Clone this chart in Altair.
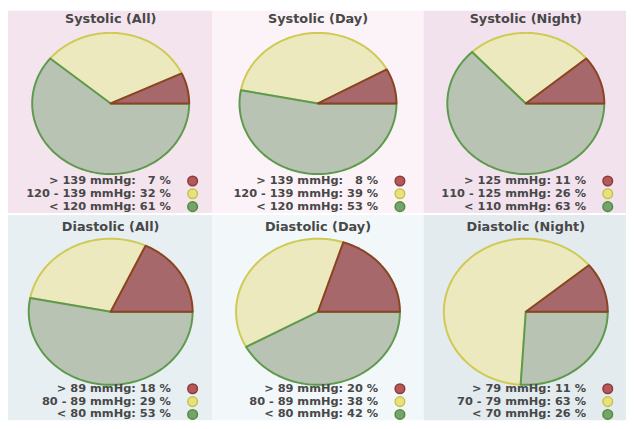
import altair as alt
import pandas as pd

# ---------------- data ----------------
titles = ["Systolic (All)", "Systolic (Day)", "Systolic (Night)",
          "Diastolic (All)", "Diastolic (Day)", "Diastolic (Night)"]
ranges_systolic = ["> 139", "120 - 139", "< 120"]
ranges_systolic_night = ["> 125", "110 - 125", "< 110"]
ranges_diastolic = ["> 89", "80 - 89", "< 80"]
ranges_diastolic_night = ["> 79", "70 - 79", "< 70"]
unit = "mmHg"
pct_systolic_all = [7, 32, 61]
pct_systolic_day = [8, 39, 53]
pct_systolic_night = [11, 26, 63]
pct_diastolic_all = [18, 29, 53]
pct_diastolic_day = [20, 38, 42]
pct_diastolic_night = [11, 63, 26]
level_keys = ["high", "mid", "low"]

# ---------------- styles ----------------
FONT = "DejaVu Sans"
TEXT = "#484848"
FIG = "\u2007"
fill_colors = ["#a7686b", "#ebe9bd", "#b9c3b3"]
edge_colors = ["#8a4422", "#cfca55", "#5e9a4c"]
dot_fill = ["#b3585b", "#e6e27e", "#76a466"]
dot_edge = ["#8e3a3a", "#c9c24a", "#4f8a40"]
bg_top = ["#f4e4ee", "#fbf3f7", "#f1e2ee"]
bg_bottom = ["#e7eff3", "#f2f7fa", "#e3ebef"]
col_widths = [207, 214, 205]
col_cx = [104, 107, 103.5]
row_heights = [205, 208]
draw_order = ["mid", "low", "high"]


def panel(title, ranges, pcts, width, height, cx, cy, rx, ry, rows, title_y, bg):
    df = pd.DataFrame({
        "idx": [0, 1, 2],
        "key": level_keys,
        "pct": pcts,
        "label": [f"{r} {unit}: {str(p).rjust(2, FIG)} %" for r, p in zip(ranges, pcts)],
    })
    base = alt.Chart(df)
    xs = alt.X("ux:Q", axis=None,
               scale=alt.Scale(domain=[-1, 1], range=[cx - rx, cx + rx], nice=False, zero=False))
    ys = alt.Y("uy:Q", axis=None,
               scale=alt.Scale(domain=[-1, 1], range=[cy + ry, cy - ry], nice=False, zero=False))
    slices = []
    for key in draw_order:
        i = level_keys.index(key)
        s = (
            base.transform_window(cum="sum(pct)", sort=[alt.SortField("idx")])
            .transform_filter(alt.datum.key == key)
            .transform_calculate(
                a0="2 * PI * (datum.cum - datum.pct) / 100",
                a1="2 * PI * datum.cum / 100",
                k="sequence(0, 92)",
            )
            .transform_flatten(["k"])
            .transform_calculate(a="datum.a0 + (datum.a1 - datum.a0) * (datum.k - 1) / 90")
            .transform_calculate(
                ux="datum.k == 0 ? 0 : cos(datum.a)",
                uy="datum.k == 0 ? 0 : sin(datum.a)",
            )
            .mark_line(interpolate="linear-closed", strokeWidth=2, strokeJoin="round",
                       fill=fill_colors[i], stroke=edge_colors[i])
            .encode(x=xs, y=ys, order=alt.Order("k:Q"))
        )
        slices.append(s)
    ypos = alt.Y("idx:O", axis=None, scale=alt.Scale(type="point", range=rows, padding=0))
    text = base.mark_text(
        align="right", baseline="middle", font=FONT, fontSize=11.5, fontWeight="bold", color=TEXT
    ).encode(x=alt.value(cx + 61), y=ypos, text="label:N")
    dots = base.mark_circle(size=95, strokeWidth=1.5, opacity=1).encode(
        x=alt.value(cx + 83), y=ypos,
        fill=alt.Fill("key:N", scale=alt.Scale(domain=level_keys, range=dot_fill), legend=None),
        stroke=alt.Stroke("key:N", scale=alt.Scale(domain=level_keys, range=dot_edge), legend=None),
    )
    ttl = alt.Chart(pd.DataFrame({"t": [title]})).mark_text(
        align="center", baseline="middle", font=FONT, fontSize=13, fontWeight="bold", color=TEXT
    ).encode(x=alt.value(cx), y=alt.value(title_y), text="t:N")
    return (
        alt.layer(*slices, text, dots, ttl)
        .resolve_scale(y="independent", fill="independent", stroke="independent")
        .properties(width=width, height=height, view=alt.ViewBackground(fill=bg, strokeWidth=0))
    )


top_ranges = [ranges_systolic, ranges_systolic, ranges_systolic_night]
top_pcts = [pct_systolic_all, pct_systolic_day, pct_systolic_night]
bot_ranges = [ranges_diastolic, ranges_diastolic, ranges_diastolic_night]
bot_pcts = [pct_diastolic_all, pct_diastolic_day, pct_diastolic_night]

top = [panel(titles[i], top_ranges[i], top_pcts[i], col_widths[i], row_heights[0],
             col_cx[i], 94, 79.5, 71.5, [172.5, 198.5], 9, bg_top[i]) for i in range(3)]
bottom = [panel(titles[3 + i], bot_ranges[i], bot_pcts[i], col_widths[i], row_heights[1],
                col_cx[i], 98, 83, 74, [176, 202], 12, bg_bottom[i]) for i in range(3)]

chart = (
    alt.vconcat(
        alt.hconcat(*top, spacing=0),
        alt.hconcat(*bottom, spacing=0),
        spacing=0,
    )
    .properties(padding=0, background="#ffffff")
    .configure_view(strokeWidth=0)
)

chart.save("out.html", embed_options={"renderer": "svg", "actions": False})
